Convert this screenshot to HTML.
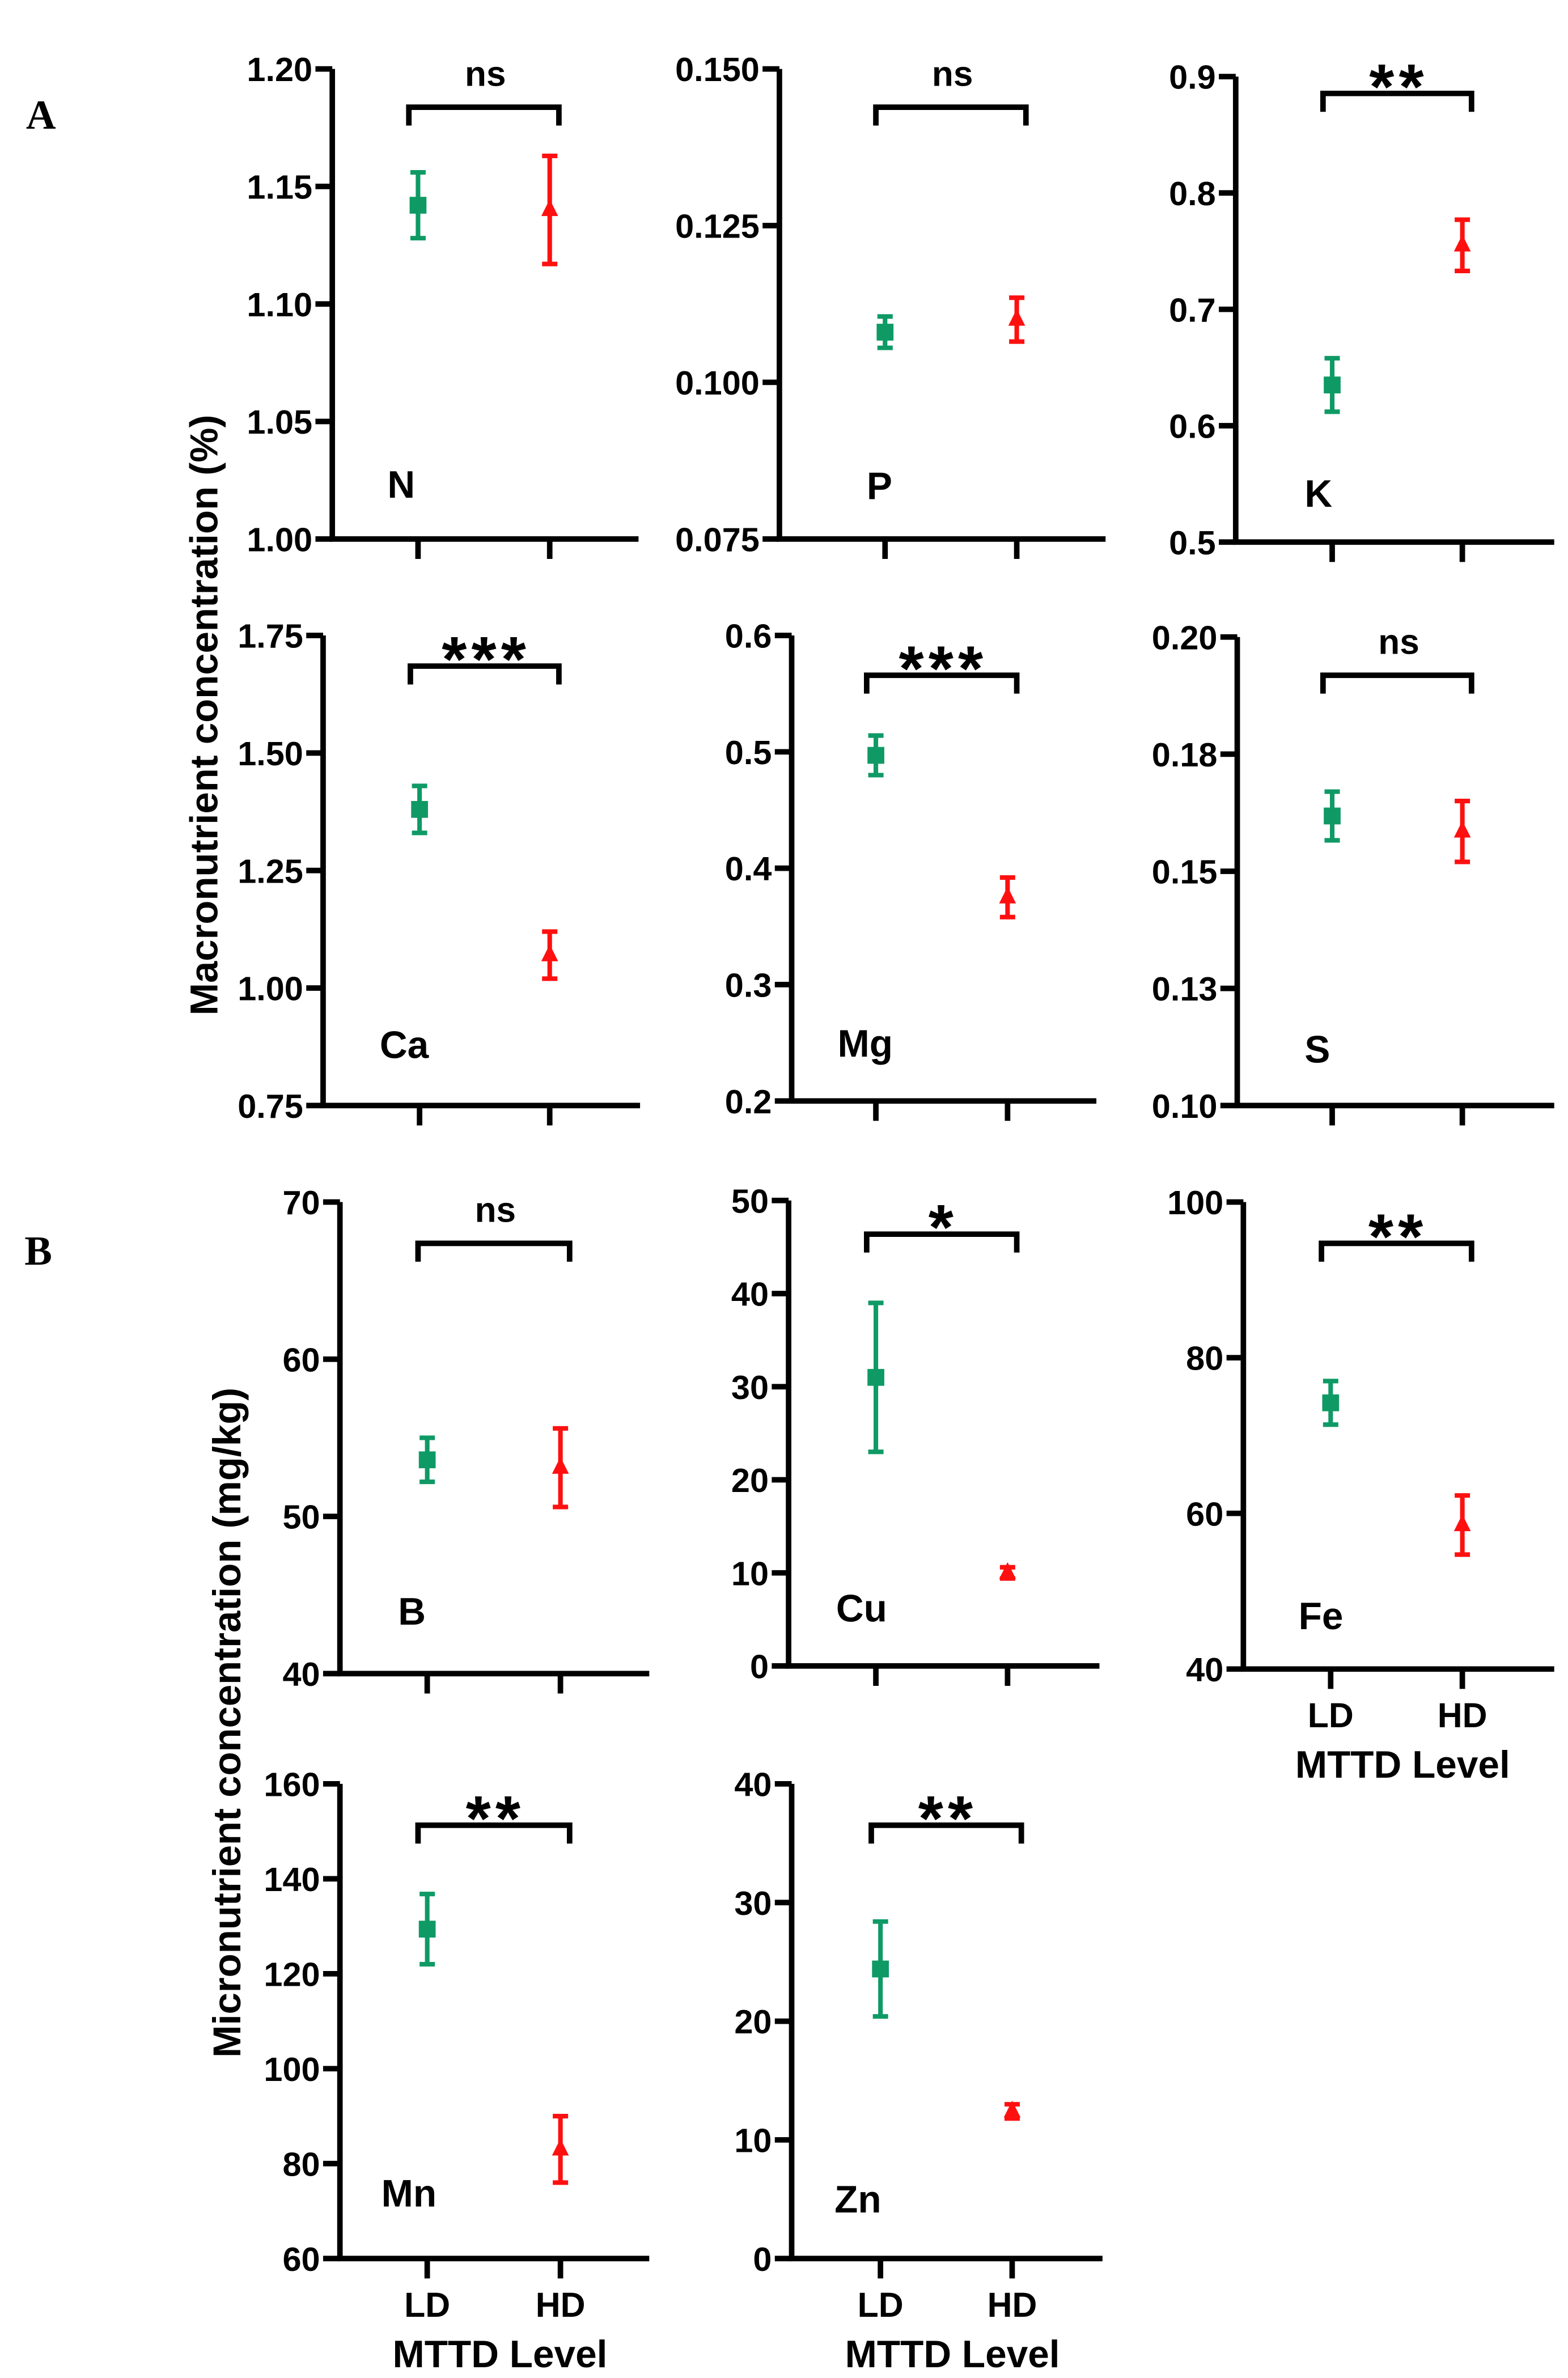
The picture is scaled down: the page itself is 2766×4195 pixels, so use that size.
<!DOCTYPE html>
<html><head><meta charset="utf-8"><style>
html,body{margin:0;padding:0;background:#fff;}
svg{display:block;}
text{font-family:"Liberation Sans",Arial,sans-serif;font-weight:bold;fill:#000;}
</style></head><body>
<svg id="fig" width="2766" height="4195" viewBox="0 0 1024 1553" xmlns="http://www.w3.org/2000/svg">
<text x="17" y="84" style="font-family:'Liberation Serif',serif;font-size:27px;">A</text>
<text x="16" y="826" style="font-family:'Liberation Serif',serif;font-size:27px;">B</text>
<text transform="translate(142,467) rotate(-90)" text-anchor="middle" style="font-size:25.5px;">Macronutrient concentration (%)</text>
<text transform="translate(157,1125) rotate(-90)" text-anchor="middle" style="font-size:25.5px;">Micronutrient concentration (mg/kg)</text>
</svg>
<script>
// data
const nutrients = ["N","P","K","Ca","Mg","S","B","Cu","Fe","Mn","Zn"];
const ldMeans = [1.142,0.108,0.635,1.38,0.497,0.1618,53.6,31,74.2,129.4,24.4];
const ldErrs  = [0.014,0.0025,0.023,0.05,0.017,0.0052,1.4,8,2.8,7.4,4];
const hdMeans = [1.140,0.110,0.755,1.07,0.375,0.1585,53.1,10.0,58.5,83,12.4];
const hdErrs  = [0.023,0.0035,0.022,0.05,0.017,0.0065,2.5,0.6,3.8,7,0.6];
const significance = ["ns","ns","**","***","***","ns","ns","*","**","**","**"];
const yMins = [1.00,0.075,0.5,0.75,0.2,0.10,40,0,40,60,0];
const yMaxs = [1.20,0.150,0.9,1.75,0.6,0.20,70,50,100,160,40];
const tickLabels = [
 ["1.00","1.05","1.10","1.15","1.20"],
 ["0.075","0.100","0.125","0.150"],
 ["0.5","0.6","0.7","0.8","0.9"],
 ["0.75","1.00","1.25","1.50","1.75"],
 ["0.2","0.3","0.4","0.5","0.6"],
 ["0.10","0.13","0.15","0.18","0.20"],
 ["40","50","60","70"],
 ["0","10","20","30","40","50"],
 ["40","60","80","100"],
 ["60","80","100","120","140","160"],
 ["0","10","20","30","40"]
];
const categories = ["LD","HD"];

// layout (not data)
const layout = [
 {ax:217,xe:417,top:45,bot:352,ld:273,hd:359,br:70,lx:253,ly:325,xl:false},
 {ax:509,xe:722,top:45,bot:352,ld:578,hd:664,br:70,lx:566,ly:326,xl:false},
 {ax:807,xe:1015,top:50,bot:354,ld:870,hd:955,br:61,lx:852,ly:331,xl:false},
 {ax:211,xe:418,top:415,bot:722,ld:274,hd:359,br:435,lx:248,ly:691,xl:false},
 {ax:517,xe:716,top:415,bot:719,ld:572,hd:658,br:441,lx:547,ly:690,xl:false},
 {ax:808,xe:1015,top:416,bot:722,ld:870,hd:955,br:441,lx:852,ly:694,xl:false},
 {ax:222,xe:424,top:785,bot:1093,ld:279,hd:366,br:812,lx:260,ly:1061,xl:false},
 {ax:515,xe:718,top:784,bot:1088,ld:572,hd:658,br:806,lx:546,ly:1059,xl:false},
 {ax:812,xe:1015,top:785,bot:1090,ld:869,hd:955,br:812,lx:848,ly:1064,xl:true},
 {ax:222,xe:424,top:1165,bot:1475,ld:279,hd:366,br:1192,lx:249,ly:1441,xl:true},
 {ax:517,xe:720,top:1165,bot:1475,ld:575,hd:661,br:1192,lx:545,ly:1445,xl:true}
];
const NS="http://www.w3.org/2000/svg";
const svg=document.getElementById('fig');
const GREEN="#0f9a65", RED="#ff1010";
function mk(tag,attrs,parent){const e=document.createElementNS(NS,tag);for(const k in attrs)e.setAttribute(k,attrs[k]);(parent||svg).appendChild(e);return e;}

nutrients.forEach((name,i)=>{
 const L=layout[i];
 const g=mk('g',{});
 
 
 const y=v=>L.bot-(v-yMins[i])/(yMaxs[i]-yMins[i])*(L.bot-L.top);
 const ax=mk('path',{d:`M${L.ax} ${L.top}V${L.bot}H${L.xe}`,fill:'none',stroke:'#000','stroke-width':3.6},g);
 
 
 const n=tickLabels[i].length;
 tickLabels[i].forEach((t,k)=>{
  const v=yMins[i]+k*(yMaxs[i]-yMins[i])/(n-1);
  const yy=y(v);
  mk('line',{x1:L.ax-11,x2:L.ax,y1:yy,y2:yy,stroke:'#000','stroke-width':3.6},g);
  const tx=mk('text',{x:L.ax-13,y:yy+8,'text-anchor':'end','font-size':22},g);
  
  
  tx.textContent=t;
 });
 [L.ld,L.hd].forEach(xx=>mk('line',{x1:xx,x2:xx,y1:L.bot,y2:L.bot+13,stroke:'#000','stroke-width':3.6},g));
 if(L.xl){
  categories.forEach((c,k)=>{
   const t=mk('text',{x:k?L.hd:L.ld,y:L.bot+38,'text-anchor':'middle','font-size':22.5},g);
   
   
   t.textContent=c;
  });
  const t=mk('text',{x:(L.ld+L.hd)/2+4,y:L.bot+71,'text-anchor':'middle','font-size':25},g);
  
  
  t.textContent='MTTD Level';
 }
 // bracket
 const b=mk('path',{d:`M${L.ld-6} ${L.br+12}V${L.br}H${L.hd+6}V${L.br+12}`,fill:'none',stroke:'#000','stroke-width':3.6},g);
 
 
 const s=significance[i];
 const st=mk('text',{x:(L.ld+L.hd)/2+1,y:s==='ns'?L.br-14:L.br+10,'text-anchor':'middle','font-size':s==='ns'?23:42,'letter-spacing':s==='ns'?0:3},g);
 if(s==='ns')st.setAttribute('font-weight','normal');
 
 
 st.textContent=s;
 // panel label
 const pl=mk('text',{x:L.lx,y:L.ly,'font-size':25},g);
 
 
 pl.textContent=name;
 // points
 [[L.ld,ldMeans[i],ldErrs[i],GREEN,0],[L.hd,hdMeans[i],hdErrs[i],RED,1]].forEach(([xx,m,e,c,tri])=>{
  const pg=mk('g',{},g);
  
  
  const y1=y(m+e),y2=y(m-e),ym=y(m);
  mk('line',{x1:xx,x2:xx,y1:y1,y2:y2,stroke:c,'stroke-width':3},pg);
  mk('line',{x1:xx-5,x2:xx+5,y1:y1,y2:y1,stroke:c,'stroke-width':3},pg);
  mk('line',{x1:xx-5,x2:xx+5,y1:y2,y2:y2,stroke:c,'stroke-width':3},pg);
  if(tri) mk('path',{d:`M${xx} ${ym-7}L${xx+5.5} ${ym+4}H${xx-5.5}Z`,fill:c},pg);
  else mk('rect',{x:xx-5.5,y:ym-5.5,width:11,height:11,fill:c},pg);
 });
});
</script>
</body></html>
